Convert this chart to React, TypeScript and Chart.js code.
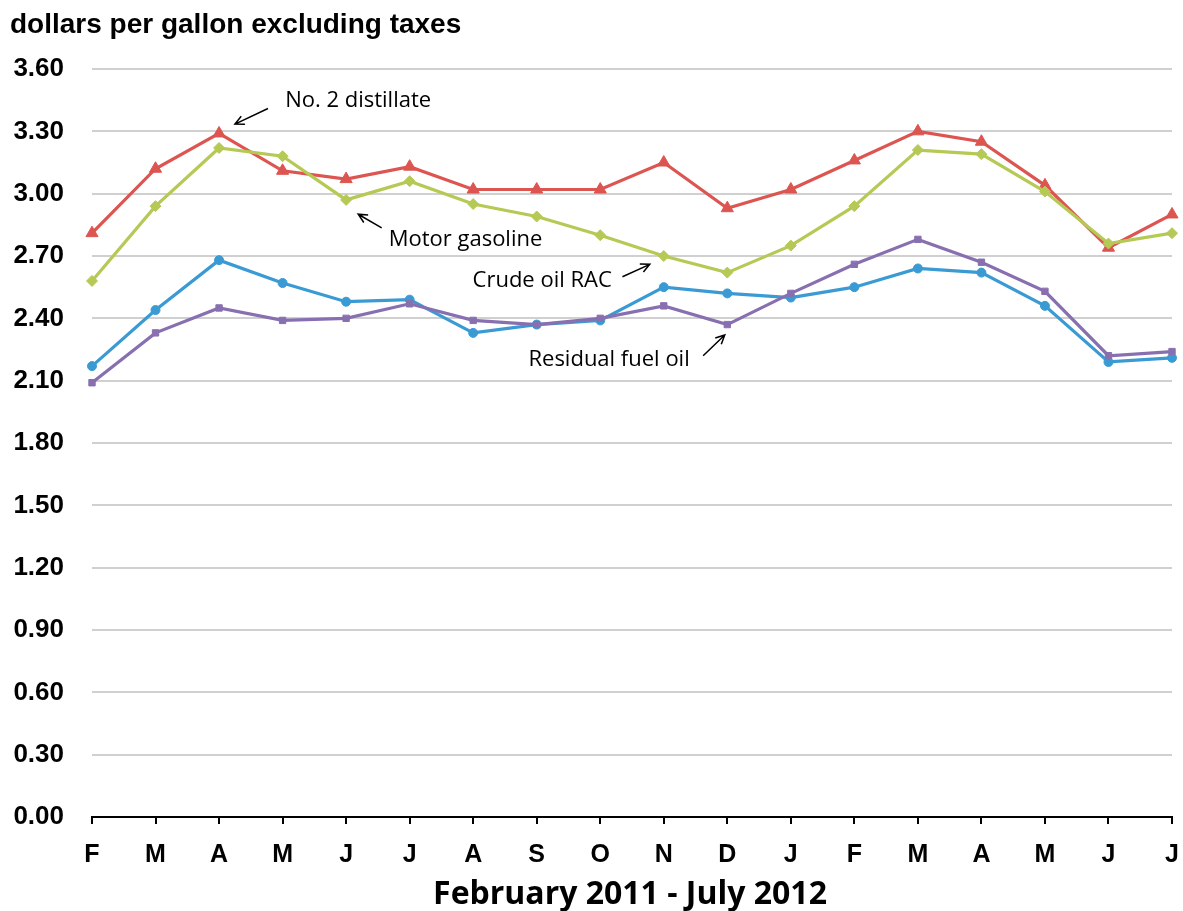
import React, { useEffect, useRef } from "react";
import { Chart, registerables } from "chart.js";

Chart.register(...registerables);

const months = ["F", "M", "A", "M", "J", "J", "A", "S", "O", "N", "D", "J", "F", "M", "A", "M", "J", "J"];

const distillate = [2.81, 3.12, 3.29, 3.11, 3.07, 3.13, 3.02, 3.02, 3.02, 3.15, 2.93, 3.02, 3.16, 3.30, 3.25, 3.04, 2.74, 2.90];
const gasoline = [2.58, 2.94, 3.22, 3.18, 2.97, 3.06, 2.95, 2.89, 2.80, 2.70, 2.62, 2.75, 2.94, 3.21, 3.19, 3.01, 2.76, 2.81];
const crude = [2.17, 2.44, 2.68, 2.57, 2.48, 2.49, 2.33, 2.37, 2.39, 2.55, 2.52, 2.50, 2.55, 2.64, 2.62, 2.46, 2.19, 2.21];
const residual = [2.09, 2.33, 2.45, 2.39, 2.40, 2.47, 2.39, 2.37, 2.40, 2.46, 2.37, 2.52, 2.66, 2.78, 2.67, 2.53, 2.22, 2.24];

const yTitle = "dollars per gallon excluding taxes";
const xTitle = "February 2011 - July 2012";

// annotation labels: text anchored at (category index, value); arrow from tail to head
const notes = [
  { text: "No. 2 distillate", x: 3.04, y: 3.445, tail: [2.77, 3.41], head: [2.25, 3.335] },
  { text: "Motor gasoline", x: 4.67, y: 2.78, tail: [4.56, 2.835], head: [4.19, 2.901] },
  { text: "Crude oil RAC", x: 5.99, y: 2.58, tail: [8.35, 2.60], head: [8.78, 2.66] },
  { text: "Residual fuel oil", x: 6.87, y: 2.20, tail: [9.62, 2.22], head: [9.96, 2.32] },
];

const notesPlugin = {
  id: "notes",
  afterDatasetsDraw(chart: any) {
    const { ctx, scales } = chart;
    const xs = scales.x;
    const ys = scales.y;
    ctx.save();
    ctx.fillStyle = "#000";
    ctx.strokeStyle = "#000";
    ctx.font = '22px "Open Sans"';
    ctx.textBaseline = "middle";
    ctx.textAlign = "left";
    for (const n of notes) {
      ctx.fillText(n.text, xs.getPixelForValue(n.x), ys.getPixelForValue(n.y));
      const tx = xs.getPixelForValue(n.tail[0]);
      const ty = ys.getPixelForValue(n.tail[1]);
      const hx = xs.getPixelForValue(n.head[0]);
      const hy = ys.getPixelForValue(n.head[1]);
      ctx.lineWidth = 1.5;
      ctx.beginPath();
      ctx.moveTo(tx, ty);
      ctx.lineTo(hx, hy);
      const a = Math.atan2(hy - ty, hx - tx);
      const L = 10;
      const s = 0.45;
      ctx.moveTo(hx - L * Math.cos(a - s), hy - L * Math.sin(a - s));
      ctx.lineTo(hx, hy);
      ctx.lineTo(hx - L * Math.cos(a + s), hy - L * Math.sin(a + s));
      ctx.stroke();
    }
    ctx.restore();
  },
  afterDraw(chart: any) {
    const { ctx } = chart;
    ctx.save();
    ctx.fillStyle = "#000";
    ctx.textBaseline = "alphabetic";
    ctx.textAlign = "left";
    ctx.font = 'bold 28px "Liberation Sans", Arial, sans-serif';
    ctx.fillText(yTitle, 10, 33);
    ctx.textAlign = "center";
    ctx.font = 'bold 32px "Open Sans"';
    ctx.fillText(xTitle, 630, 904);
    ctx.restore();
  },
};

export default function App() {
  const ref = useRef<HTMLCanvasElement>(null);
  useEffect(() => {
    if (!ref.current) return;
    const mk = (label: string, data: number[], color: string, style: string, r: number) => ({
      label,
      data,
      borderColor: color,
      backgroundColor: color,
      borderWidth: 3.2,
      pointStyle: style,
      pointRadius: r,
      pointBorderWidth: 1,
      tension: 0,
    });
    const chart = new Chart(ref.current, {
      type: "line",
      data: {
        labels: months,
        datasets: [
          mk("Motor gasoline", gasoline, "#B5C955", "rectRot", 5.5),
          mk("No. 2 distillate", distillate, "#DC5550", "triangle", 7),
          mk("Residual fuel oil", residual, "#8870B0", "rect", 4.5),
          mk("Crude oil RAC", crude, "#3A9BD4", "circle", 4.5),
        ],
      },
      options: {
        animation: false,
        responsive: false,
        maintainAspectRatio: false,
        layout: { padding: { top: 69, right: 0, bottom: 0, left: 0 } },
        plugins: { legend: { display: false }, tooltip: { enabled: false }, title: { display: false } },
        scales: {
          x: {
            offset: false,
            grid: { drawOnChartArea: false, drawTicks: true, tickLength: 7, color: "#000", lineWidth: 2 },
            border: { color: "#000", width: 2 },
            ticks: {
              color: "#000",
              font: { family: '"Liberation Sans", Arial, sans-serif', size: 25, weight: "bold" },
              padding: 16,
              maxRotation: 0,
              autoSkip: false,
            },
            afterFit(scale: any) {
              scale.height = 94;
              scale.paddingRight = 11;
            },
          },
          y: {
            min: 0,
            max: 3.6,
            grid: { color: "#D0D0D0", lineWidth: 2, drawTicks: false },
            border: { display: false },
            ticks: {
              stepSize: 0.3,
              color: "#000",
              padding: 28,
              font: { family: '"Liberation Sans", Arial, sans-serif', size: 26, weight: "bold" },
              callback: (v: any) => Number(v).toFixed(2),
            },
            afterFit(scale: any) {
              scale.width = 92;
            },
          },
        },
      },
      plugins: [notesPlugin],
    } as any);
    return () => chart.destroy();
  }, []);
  return (
    <div style={{ position: "absolute", left: 0, top: 0, width: 1183, height: 911, background: "#fff" }}>
      <canvas ref={ref} width={1183} height={911} style={{ width: 1183, height: 911, display: "block" }} />
    </div>
  );
}
